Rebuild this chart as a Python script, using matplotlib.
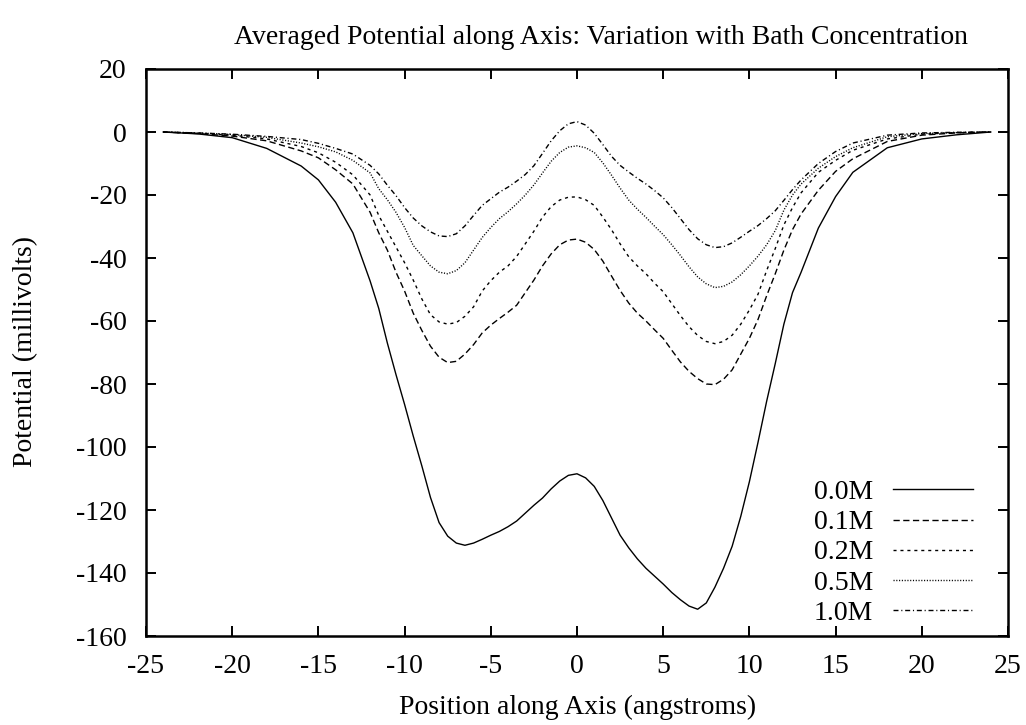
import numpy as np
import matplotlib
matplotlib.use("Agg")
import matplotlib.pyplot as plt

# position along axis (angstroms), shared by all curves
pos = [-24, -22, -20, -18, -16, -15, -14, -13,
       -12, -11.5, -11, -10.5, -10, -9.5, -9, -8.5, -8, -7.5, -7, -6.5, -6,
       -5.5, -5, -4.5, -4, -3.5, -3, -2.5, -2, -1.5, -1, -0.5, 0, 0.5, 1,
       1.5, 2, 2.5, 3, 3.5, 4, 4.5, 5, 5.5, 6, 6.5, 7, 7.5, 8, 8.5, 9, 9.5,
       10, 10.5, 11, 11.5, 12,
       12.5, 13, 14, 15, 16, 18, 20, 22, 24]

pot_00 = [0, -0.6, -1.8, -5.2, -10.8, -15.2, -22.3, -32,
          -47.3, -56, -67, -77, -86.5, -96.5, -106, -116, -124, -128.3, -130.5,
          -131.2, -130.5, -129.3, -128, -126.8, -125.3, -123.5, -121, -118.5,
          -116.2, -113.3, -110.8, -109, -108.5, -109.8, -112.5, -117, -122.5,
          -128, -132, -135.5, -138.5, -141, -143.5, -146.2, -148.5, -150.5,
          -151.5, -149.5, -144.5, -138.5, -131.5, -122, -111, -98.5, -85.5,
          -73.5, -61,
          -51, -44.5, -30.5, -20.5, -12.8, -5, -2.2, -0.9, 0]
pot_01 = [0, -0.5, -1.3, -2.8, -6, -8.2, -12, -16.5,
          -25.5, -32, -37.5, -44.5, -50.5, -57.5, -63, -68, -71.5, -73.2, -72.8,
          -70.5, -67.5, -63.8, -61.3, -59.2, -57.2, -55, -51, -47, -42.5, -38.7,
          -35.8, -34.3, -34, -35, -37.3, -41, -45.7, -50.3, -54.3, -57.5, -60,
          -62.8, -65.5, -69.3, -73, -76, -78.3, -80, -80.2, -78.5, -75.5, -70.5,
          -65.5, -59.5, -52, -45, -37.5,
          -31, -26, -18.5, -12.5, -8.5, -3, -1, -0.3, 0]
pot_02 = [0, -0.4, -1.0, -2.2, -4.6, -6.6, -9.6, -13.6,
          -20, -26.5, -31.5, -36.5, -41.5, -47, -53, -58, -60.3, -61, -60.5,
          -58.5, -55.5, -50.5, -47.2, -44.5, -42.5, -39.5, -35.5, -31.5, -27,
          -23.7, -21.6, -20.7, -20.6, -21.5, -23.3, -27, -31, -35.5, -39.6,
          -42.5, -45, -48, -50.7, -54.5, -58.3, -61.8, -64.6, -66.5, -67.2,
          -66.5, -64.5, -61, -56.5, -51.5, -44, -37, -29.5,
          -24, -19.3, -12.8, -9, -5.8, -2.2, -0.7, -0.2, 0]
pot_05 = [0, -0.3, -0.8, -1.7, -3.5, -4.7, -6.3, -9,
          -13, -18, -21.5, -25.5, -30.3, -36, -39.3, -42.5, -44.5, -45, -44,
          -41.5, -37.5, -33.5, -30.3, -27.5, -25.3, -22.8, -20, -16.8, -13,
          -9.3, -6.5, -4.8, -4.4, -5.0, -6.5, -9.8, -13.7, -17.8, -21.6, -24.5,
          -27.1, -29.9, -32.6, -35.8, -39.2, -42.8, -46, -48.2, -49.4, -49,
          -47.6, -45.3, -42.5, -39.4, -35.8, -31.3, -24.8,
          -20, -16.5, -11.5, -7.8, -5, -1.5, -0.5, -0.2, 0]
pot_10 = [0, -0.3, -0.7, -1.4, -2.4, -3.6, -5.2, -7,
          -10.6, -13.3, -16.9, -20.2, -24, -27.3, -29.8, -31.7, -33, -33.2,
          -32.3, -29.8, -26.5, -23.3, -21.2, -19.1, -17.5, -15.6, -13.5, -10.7,
          -6.8, -2.8, 0.4, 2.6, 3.3, 2.2, -0.4, -4.0, -7.7, -10.6, -12.7,
          -14.7, -16.5, -18.6, -20.9, -24, -27.5, -31, -33.9, -35.8, -36.7,
          -36.4, -35.2, -33.4, -31.5, -29.7, -27.5, -25, -21.7,
          -18.3, -15.2, -10, -6.2, -3.5, -1, -0.3, -0.1, 0]

labels = ["0.0M", "0.1M", "0.2M", "0.5M", "1.0M"]
series = [pot_00, pot_01, pot_02, pot_05, pot_10]
dashes = [None, (4.5, 2.5), (2.2, 2.8), (0.8, 1.2), (3.6, 2.0, 0.8, 2.0)]

plt.rcParams["font.family"] = ["Liberation Serif", "DejaVu Serif"]
plt.rcParams["font.size"] = 20
plt.rcParams["axes.unicode_minus"] = False

fig = plt.figure(figsize=(10.26, 7.25), dpi=100)
ax = fig.add_axes([146 / 1026, 1 - 636 / 725, 862 / 1026, 567 / 725])

for lab, y, d in zip(labels, series, dashes):
    if d is None:
        ax.plot(pos, y, color="black", lw=1.0, label=lab)
    else:
        ax.plot(pos, y, color="black", lw=1.0, dashes=d, label=lab)

ax.set_xlim(-25, 25)
ax.set_ylim(-160, 20)
ax.set_xticks(np.arange(-25, 26, 5))
ax.set_yticks(np.arange(-160, 21, 20))
ax.tick_params(direction="in", length=7.2, width=1.4, top=True, right=True,
               labelsize=20)
ax.tick_params(axis="x", pad=13)
ax.tick_params(axis="y", pad=14)
for s in ax.spines.values():
    s.set_linewidth(1.8)

fig.text(578 / 1026, 1 - 707 / 725, "Position along Axis (angstroms)",
         ha="center", va="center", fontsize=20)
fig.text(26 / 1026, 1 - 352 / 725, "Potential (millivolts)", rotation=90,
         ha="center", va="center", fontsize=20)
fig.text(601 / 1026, 1 - 38 / 725,
         "Averaged Potential along Axis: Variation with Bath Concentration",
         ha="center", va="center", fontsize=20)

ax.legend(loc="lower right", bbox_to_anchor=(0.9594, 0.018), frameon=False,
          markerfirst=False, handlelength=2.88, handletextpad=0.72,
          labelspacing=0.17, fontsize=20, borderpad=0, borderaxespad=0)

plt.savefig("out.png", dpi=100)
